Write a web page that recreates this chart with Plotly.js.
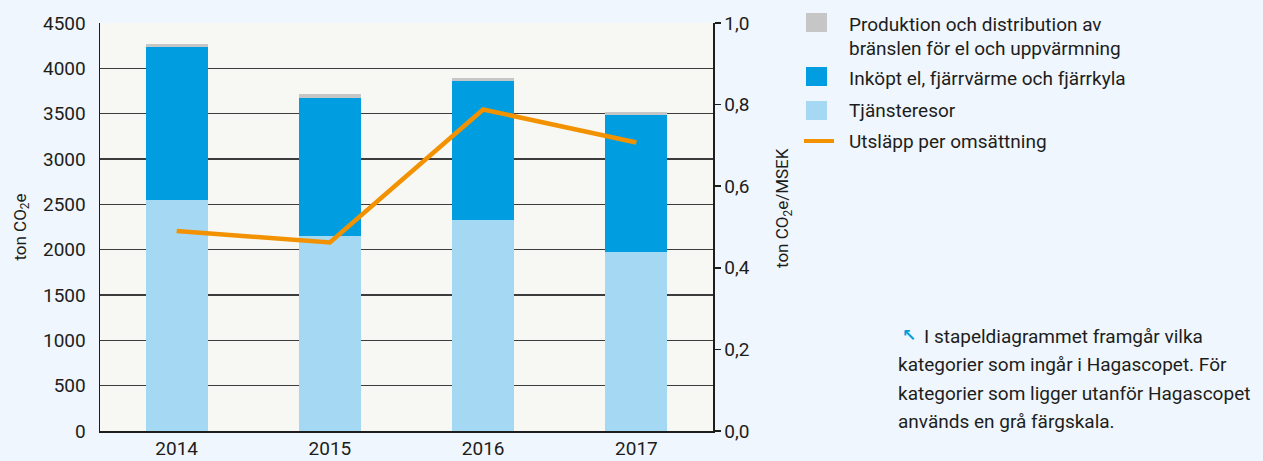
<!DOCTYPE html>
<html>
<head>
<meta charset="utf-8">
<script src="https://cdn.plot.ly/plotly-3.0.1.min.js"></script>
<style>
html,body{margin:0;padding:0;background:#eff6fd;}
#chart{width:1263px;height:461px;}
</style>
</head>
<body>
<div id="chart"></div>
<script>
// Data
const years = ['2014', '2015', '2016', '2017'];
const tjansteresor = [2548, 2151, 2327, 1974];
const inkoptEl = [1687, 1522, 1533, 1511];
const produktion = [33, 44, 33, 30];
const utslappPerOmsattning = [0.490, 0.462, 0.788, 0.707];

const seriesNames = {
  prod: 'Produktion och distribution av bränslen för el och uppvärmning',
  inkopt: 'Inköpt el, fjärrvärme och fjärrkyla',
  tj: 'Tjänsteresor',
  line: 'Utsläpp per omsättning'
};
const prodLegendLines = ['Produktion och distribution av', 'bränslen för el och uppvärmning'];
const noteLines = [
  'I stapeldiagrammet framgår vilka',
  'kategorier som ingår i Hagascopet. För',
  'kategorier som ligger utanför Hagascopet',
  'används en grå färgskala.'
];

const colors = {tj: '#a5d9f3', inkopt: '#009ee0', prod: '#c6c6c6', line: '#f39200'};

// plot area in pixels
const W = 1263, H = 461;
const L = 100, R = 713, T = 23, B = 431;
const px = x => (x - L) / (R - L);
const py = y => (B - y) / (B - T);

const font = 'Roboto, "DejaVu Sans", sans-serif';
const textColor = '#1d1d1b';

const barWidth = 0.405;
const traces = [
  {type: 'bar', x: years, y: tjansteresor, name: seriesNames.tj, marker: {color: colors.tj}, width: barWidth, showlegend: false},
  {type: 'bar', x: years, y: inkoptEl, name: seriesNames.inkopt, marker: {color: colors.inkopt}, width: barWidth, showlegend: false},
  {type: 'bar', x: years, y: produktion, name: seriesNames.prod, marker: {color: colors.prod}, width: barWidth, showlegend: false},
  {type: 'scatter', mode: 'lines', x: years, y: utslappPerOmsattning, yaxis: 'y2', name: seriesNames.line, line: {color: colors.line, width: 4.5}, showlegend: false}
];

// custom legend
const shapes = [];
const annotations = [];
const legendFont = {family: font, size: 19, color: textColor};
const legendX = 847;
const legendItems = [
  {kind: 'box', color: colors.prod, y0: 13, y1: 32, lines: prodLegendLines, ty: [25, 48]},
  {kind: 'box', color: colors.inkopt, y0: 67, y1: 86, lines: [seriesNames.inkopt], ty: [79]},
  {kind: 'box', color: colors.tj, y0: 101, y1: 120, lines: [seriesNames.tj], ty: [110]},
  {kind: 'line', color: colors.line, y0: 141, y1: 141, lines: [seriesNames.line], ty: [141]}
];
legendItems.forEach(it => {
  if (it.kind === 'box') {
    shapes.push({type: 'rect', xref: 'paper', yref: 'paper', x0: px(806), x1: px(827), y0: py(it.y1), y1: py(it.y0), fillcolor: it.color, line: {width: 0}});
  } else {
    shapes.push({type: 'line', xref: 'paper', yref: 'paper', x0: px(804), x1: px(834), y0: py(it.y0), y1: py(it.y0), line: {color: it.color, width: 4}});
  }
  it.lines.forEach((t, i) => {
    annotations.push({xref: 'paper', yref: 'paper', x: px(legendX), y: py(it.ty[i]), xanchor: 'left', yanchor: 'middle', align: 'left', showarrow: false, text: t, font: legendFont});
  });
});

// note text (separate lines for matching line spacing)
const noteFont = {family: font, size: 19, color: textColor};
const noteY = [336, 364, 393, 421];
noteLines.forEach((t, i) => {
  annotations.push({xref: 'paper', yref: 'paper', x: px(i === 0 ? 922 : 896), y: py(noteY[i]), xanchor: 'left', yanchor: 'middle', align: 'left', showarrow: false, text: t, font: noteFont});
});
annotations.push({xref: 'paper', yref: 'paper', x: px(900), y: py(335), xanchor: 'left', yanchor: 'middle', showarrow: false,
  text: '<b>\u2196</b>', font: {family: '"DejaVu Sans", sans-serif', size: 17, color: '#009ee0'}});

// right axis title (placed like the reference)
annotations.push({xref: 'paper', yref: 'paper', x: px(783), y: py(208), xanchor: 'center', yanchor: 'middle', textangle: -90, showarrow: false,
  text: 'ton CO<sub>2</sub>e/MSEK', font: {family: font, size: 17, color: textColor}});

const layout = {
  width: W, height: H,
  paper_bgcolor: '#eff6fd',
  plot_bgcolor: '#f7f8f3',
  margin: {l: L, r: W - R, t: T, b: H - B, pad: 0},
  barmode: 'stack',
  showlegend: false,
  separators: ', ',
  font: {family: font, size: 19, color: textColor},
  xaxis: {
    type: 'category', range: [-0.5, 3.5], showline: true, linecolor: '#1d1d1b', linewidth: 1.5,
    ticks: '', showgrid: false, tickfont: {size: 19}, fixedrange: true
  },
  yaxis: {
    range: [0, 4500], dtick: 500, showgrid: true, gridcolor: '#3c3c3c', gridwidth: 1.5,
    showline: true, linecolor: '#1d1d1b', linewidth: 1.5, ticks: '', tickfont: {size: 19},
    ticklabelstandoff: 9, zeroline: false,
    title: {text: 'ton CO<sub>2</sub>e', font: {size: 17}, standoff: 12}
  },
  yaxis2: {
    overlaying: 'y', side: 'right', range: [0, 1], dtick: 0.2, tickformat: '.1f',
    showgrid: false, showline: true, linecolor: '#1d1d1b', linewidth: 1.5,
    ticks: 'outside', ticklen: 6, tickwidth: 1.5, tickcolor: '#1d1d1b', tickfont: {size: 19}, zeroline: false,
    title: {text: ''}
  },
  shapes: shapes,
  annotations: annotations
};

Plotly.newPlot('chart', traces, layout, {displayModeBar: false, staticPlot: true});
</script>
</body>
</html>
